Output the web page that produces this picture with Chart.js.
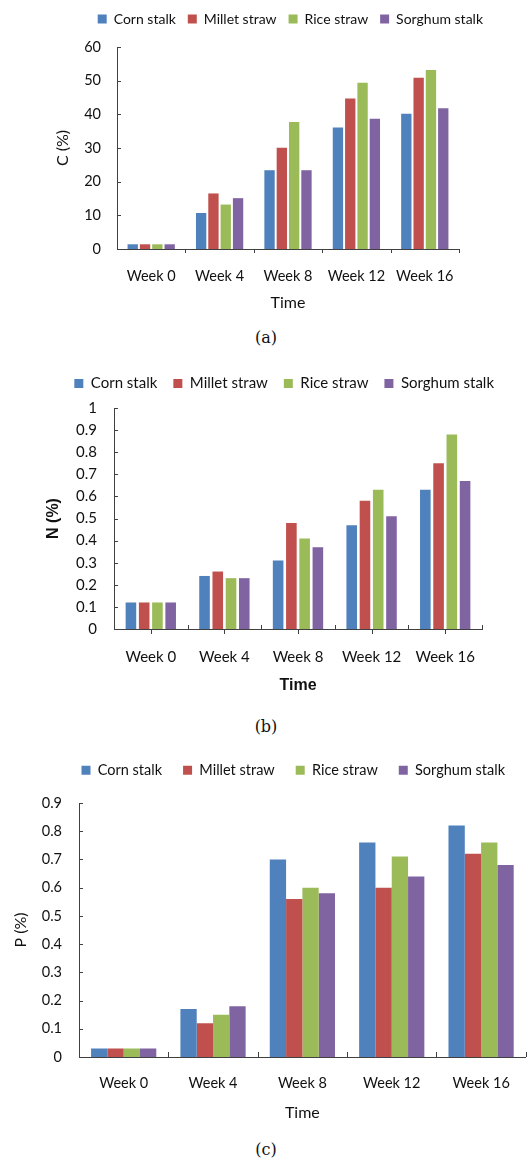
<!DOCTYPE html>
<html>
<head>
<meta charset="utf-8">
<script src="https://cdn.jsdelivr.net/npm/chart.js@4.4.1/dist/chart.umd.min.js"></script>
<style>
  html, body { margin: 0; padding: 0; background: #fff; }
  body { width: 528px; height: 1161px; position: relative; overflow: hidden; }
  canvas { position: absolute; left: 0; }
  .cap { position: absolute; left: 0; width: 532px; text-align: center;
         font-family: "DejaVu Serif", serif; font-size: 16px; color: #111; line-height: 20px; }
</style>
</head>
<body>
<canvas id="chart-c" width="528" height="312" style="top:0"></canvas>
<div class="cap" style="top:328px">(a)</div>
<canvas id="chart-n" width="528" height="335" style="top:360px"></canvas>
<div class="cap" style="top:717px">(b)</div>
<canvas id="chart-p" width="528" height="382" style="top:740px"></canvas>
<div class="cap" style="top:1140px">(c)</div>
<script>
const weeks = ["Week 0", "Week 4", "Week 8", "Week 12", "Week 16"]
const materials = ["Corn stalk", "Millet straw", "Rice straw", "Sorghum stalk"]
const colors = ["#4f81bd", "#c0504d", "#9bbb59", "#8064a2"]

// C (%)
const carbonCorn = [1.4, 10.7, 23.4, 36.1, 40.2]
const carbonMillet = [1.4, 16.5, 30.1, 44.7, 50.9]
const carbonRice = [1.4, 13.2, 37.7, 49.4, 53.2]
const carbonSorghum = [1.4, 15.1, 23.4, 38.7, 41.8]

// N (%)
const nitrogenCorn = [0.12, 0.24, 0.31, 0.47, 0.63]
const nitrogenMillet = [0.12, 0.26, 0.48, 0.58, 0.75]
const nitrogenRice = [0.12, 0.23, 0.41, 0.63, 0.88]
const nitrogenSorghum = [0.12, 0.23, 0.37, 0.51, 0.67]

// P (%)
const phosphorusCorn = [0.03, 0.17, 0.70, 0.76, 0.82]
const phosphorusMillet = [0.03, 0.12, 0.56, 0.60, 0.72]
const phosphorusRice = [0.03, 0.15, 0.60, 0.71, 0.76]
const phosphorusSorghum = [0.03, 0.18, 0.58, 0.64, 0.68]

const FONT = "Lato, 'Open Sans', sans-serif"
const AXIS = "#404040"
const INK = "#111"

// Excel style short tick marks (inside / outside of the axes).
const tickMarks = {
  id: "tickMarks",
  afterDatasetsDraw(chart, _args, opts) {
    const {ctx} = chart
    const x = chart.scales.x
    const y = chart.scales.y
    ctx.save()
    ctx.strokeStyle = AXIS
    ctx.lineWidth = 1
    ctx.beginPath()
    for (const t of y.ticks) {
      const py = Math.round(y.getPixelForValue(t.value)) + 0.5
      ctx.moveTo(x.left, py)
      ctx.lineTo(x.left + opts.yLen, py)
    }
    const n = x.getLabels().length
    const w = x.width / n
    const base = y.bottom
    if (opts.edge) {
      for (let i = 1; i <= n; i++) {
        const px = Math.round(x.left + i * w) + 0.5
        ctx.moveTo(px, base)
        ctx.lineTo(px, base + opts.edge)
      }
    }
    if (opts.center) {
      for (let i = 0; i < n; i++) {
        const px = Math.round(x.left + (i + 0.5) * w) + 0.5
        ctx.moveTo(px, base)
        ctx.lineTo(px, base + opts.center)
      }
    }
    ctx.stroke()
    ctx.restore()
  },
}

// Give the legend a fixed height so the plot area sits where it should.
const fixedLegend = {
  id: "fixedLegend",
  beforeLayout(chart, _args, opts) {
    const legend = chart.legend
    if (legend && !legend._fixed) {
      const fit = legend.fit
      legend.fit = function () {
        fit.call(this)
        this.height = opts.height
      }
      legend._fixed = true
    }
  },
}

/** @type {(cfg: any) => any} */
const makeChart = (cfg) => {
  const scales = {
    x: {
      type: "category",
      grid: {display: false, drawTicks: false},
      border: {display: true, color: AXIS, width: 1},
      ticks: {color: INK, padding: cfg.xPad, font: {family: FONT, size: cfg.tickSize}},
      title: {
        display: true,
        text: "Time",
        color: INK,
        padding: 0,
        font: {family: cfg.titleFamily || FONT, size: 16, weight: cfg.titleWeight || "normal"},
      },
      afterFit: (s) => { s.height = cfg.xHeight },
    },
    y: {
      min: 0,
      max: cfg.max,
      grid: {display: false, drawTicks: false},
      border: {display: true, color: AXIS, width: 1},
      ticks: {
        stepSize: cfg.step,
        color: INK,
        padding: cfg.yPad,
        font: {family: FONT, size: cfg.tickSize},
        callback: (v) => String(Number(Number(v).toFixed(2))),
      },
      title: {
        display: true,
        text: cfg.yTitle,
        color: INK,
        padding: {top: cfg.yTitlePad, bottom: 0},
        font: {family: cfg.titleFamily || FONT, size: 16, weight: cfg.titleWeight || "normal"},
      },
      afterFit: (s) => { s.width = cfg.yWidth },
    },
  }
  if (cfg.rightGap) {
    scales.gap = {
      axis: "y",
      position: "right",
      display: true,
      grid: {display: false, drawTicks: false},
      border: {display: false},
      ticks: {display: false},
      afterFit: (s) => { s.width = cfg.rightGap },
    }
  }
  return new Chart(document.getElementById(cfg.id), {
    type: "bar",
    data: {
      labels: weeks,
      datasets: cfg.series.map((values, i) => ({
        label: materials[i],
        data: values,
        yAxisID: "y",
        backgroundColor: colors[i],
        borderWidth: 0,
        categoryPercentage: cfg.catPct,
        barPercentage: cfg.barPct,
      })),
    },
    options: {
      animation: false,
      responsive: false,
      layout: {padding: {top: cfg.padTop, left: 0, right: cfg.padRight, bottom: 0}},
      plugins: {
        tooltip: {enabled: false},
        fixedLegend: {height: cfg.legendHeight},
        tickMarks: cfg.ticks,
        legend: {
          display: true,
          position: "top",
          align: "end",
          labels: {
            boxWidth: 9,
            boxHeight: 9,
            padding: cfg.legendPad,
            color: INK,
            font: {family: FONT, size: cfg.legendSize},
          },
        },
      },
      scales,
    },
    plugins: [fixedLegend, tickMarks],
  })
}

makeChart({
  id: "chart-c",
  series: [carbonCorn, carbonMillet, carbonRice, carbonSorghum],
  max: 60, step: 10, yTitle: "C (%)",
  padTop: 0, legendPad: 12, legendHeight: 47, legendSize: 14,
  tickSize: 14.5,
  yWidth: 117, yPad: 16, yTitlePad: 53,
  padRight: 33, rightGap: 36,
  xHeight: 63, xPad: 19,
  catPct: 0.72, barPct: 0.84,
  ticks: {yLen: 4, edge: 4, center: 0},
})

makeChart({
  id: "chart-n",
  series: [nitrogenCorn, nitrogenMillet, nitrogenRice, nitrogenSorghum],
  max: 1, step: 0.1, yTitle: "N (%)",
  titleFamily: "'Liberation Sans', Arial, sans-serif", titleWeight: "bold",
  padTop: 0, legendPad: 16, legendHeight: 48, legendSize: 15,
  tickSize: 15,
  yWidth: 114, yPad: 17, yTitlePad: 44,
  padRight: 18, rightGap: 28,
  xHeight: 66, xPad: 19,
  catPct: 0.72, barPct: 0.8,
  ticks: {yLen: 4, edge: -4, center: 5},
})

makeChart({
  id: "chart-p",
  series: [phosphorusCorn, phosphorusMillet, phosphorusRice, phosphorusSorghum],
  max: 0.9, step: 0.1, yTitle: "P (%)",
  padTop: 2, legendPad: 21, legendHeight: 61, legendSize: 14.5,
  tickSize: 14.5,
  yWidth: 79, yPad: 17, yTitlePad: 11,
  padRight: 2, rightGap: 0,
  xHeight: 65, xPad: 18,
  catPct: 0.73, barPct: 1.0,
  ticks: {yLen: 4, edge: -5, center: 0},
})
</script>
</body>
</html>
